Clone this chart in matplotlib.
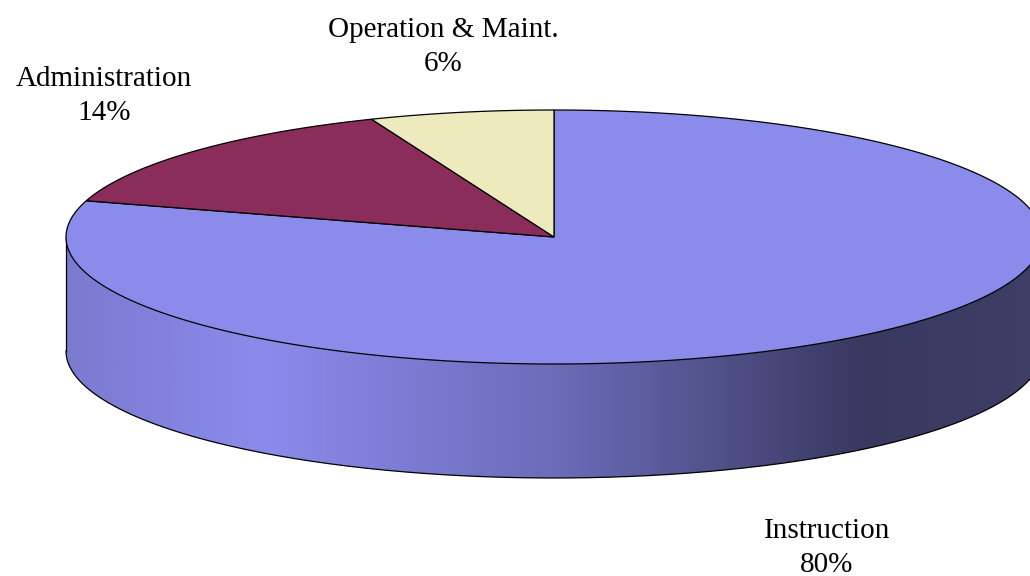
import numpy as np
import matplotlib
matplotlib.use("Agg")
import matplotlib.pyplot as plt
from matplotlib.patches import Polygon
from matplotlib.colors import LinearSegmentedColormap

# ---- data ----
categories = ["Instruction", "Administration", "Operation & Maint."]
values = [79.6, 14.3, 6.1]
colors = ["#8B8BEC", "#8B2D5B", "#EDEBBE"]

# ---- layout (pixel space) ----
W, H = 1030, 576
fig = plt.figure(figsize=(W / 100, H / 100), dpi=100)
ax = fig.add_axes([0, 0, 1, 1])

cx, cy, a, b, depth = 554, 237, 488, 127, 114


def pt(theta_deg, dy=0.0):
    t = np.radians(theta_deg)
    return cx + a * np.sin(t), cy - b * np.cos(t) + dy


# ---- side wall (front half) with gradient ----
th = np.linspace(90, 270, 300)
xt, yt = pt(th)
xb, yb = pt(th[::-1], depth)
side = np.column_stack([np.concatenate([xt, xb]), np.concatenate([yt, yb])])
side_poly = Polygon(side, closed=True, facecolor="none", edgecolor="none", zorder=1)
ax.add_patch(side_poly)

stops = [(0.0, (122 / 255, 122 / 255, 208 / 255)),
         (0.2, (139 / 255, 139 / 255, 236 / 255)),
         (0.5, (108 / 255, 108 / 255, 186 / 255)),
         (0.82, (56 / 255, 56 / 255, 96 / 255)),
         (1.0, (62 / 255, 62 / 255, 102 / 255))]
cmap = LinearSegmentedColormap.from_list("side", stops)
grad = np.linspace(0, 1, 512)[None, :]
im = ax.imshow(grad, cmap=cmap, extent=(cx - a, cx + a, cy + b + depth + 5, cy - 5),
               aspect="auto", origin="upper", zorder=1, interpolation="bilinear")
im.set_clip_path(side_poly)

# side outline: bottom arc and vertical edges
xbo, ybo = pt(th, depth)
ax.plot(xbo, ybo, color="black", lw=0.9, zorder=2)
for ang in (90, 270):
    x0, y0 = pt(ang)
    ax.plot([x0, x0], [y0, y0 + depth], color="black", lw=0.9, zorder=2)

# ---- top wedges ----
total = float(sum(values))
start = 0.0
for cat, v, col in zip(categories, values, colors):
    span = 360.0 * v / total
    ang = np.linspace(start, start + span, max(3, int(span * 2)))
    xs, ys = pt(ang)
    verts = np.column_stack([np.concatenate([[cx], xs]), np.concatenate([[cy], ys])])
    ax.add_patch(Polygon(verts, closed=True, facecolor=col, edgecolor="black",
                         lw=0.9, joinstyle="miter", zorder=3))
    start += span

# ---- labels ----
label_pos = {"Instruction": (827, 548),
             "Administration": (104, 96),
             "Operation & Maint.": (443, 47)}
for cat, v in zip(categories, values):
    x, y = label_pos[cat]
    ax.text(x, y, f"{cat}\n{100 * v / total:.0f}%", ha="center", va="center",
            family="Liberation Serif", fontsize=21, linespacing=1.4, zorder=5)

ax.set_xlim(0, W)
ax.set_ylim(H, 0)
ax.axis("off")
fig.savefig("out.png", dpi=100)
